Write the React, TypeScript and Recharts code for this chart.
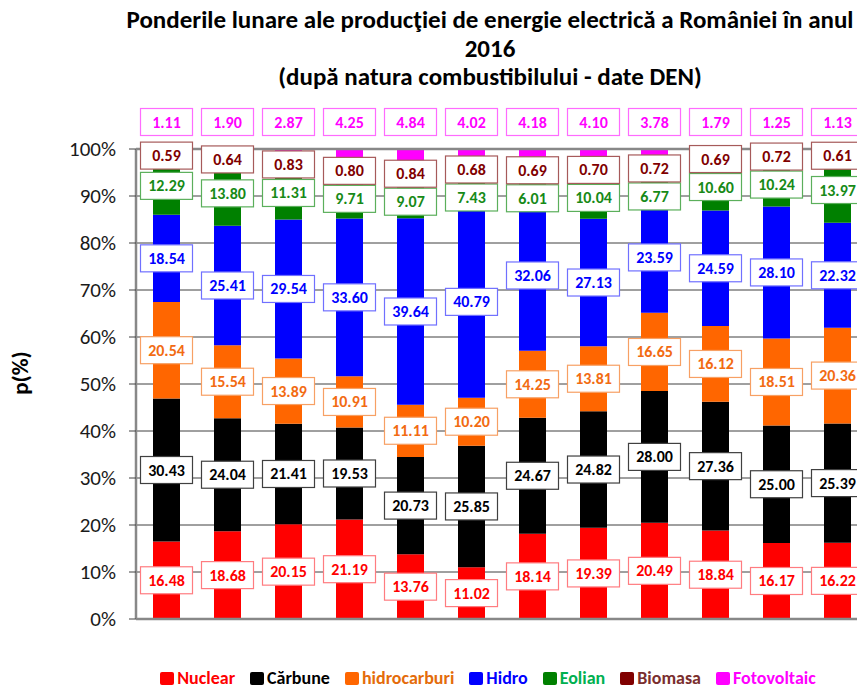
import { BarChart, Bar, XAxis, YAxis, CartesianGrid, ReferenceLine, LabelList } from 'recharts';

// monthly shares (%) of Romania's electricity production, 2016
const months = ['Ian', 'Feb', 'Mar', 'Apr', 'Mai', 'Iun', 'Iul', 'Aug', 'Sep', 'Oct', 'Noi', 'Dec'];
const nuclear = [16.48, 18.68, 20.15, 21.19, 13.76, 11.02, 18.14, 19.39, 20.49, 18.84, 16.17, 16.22];
const carbune = [30.43, 24.04, 21.41, 19.53, 20.73, 25.85, 24.67, 24.82, 28.0, 27.36, 25.0, 25.39];
const hidrocarburi = [20.54, 15.54, 13.89, 10.91, 11.11, 10.2, 14.25, 13.81, 16.65, 16.12, 18.51, 20.36];
const hidro = [18.54, 25.41, 29.54, 33.6, 39.64, 40.79, 32.06, 27.13, 23.59, 24.59, 28.1, 22.32];
const eolian = [12.29, 13.8, 11.31, 9.71, 9.07, 7.43, 6.01, 10.04, 6.77, 10.6, 10.24, 13.97];
const biomasa = [0.59, 0.64, 0.83, 0.8, 0.84, 0.68, 0.69, 0.7, 0.72, 0.69, 0.72, 0.61];
const fotovoltaic = [1.11, 1.9, 2.87, 4.25, 4.84, 4.02, 4.18, 4.1, 3.78, 1.79, 1.25, 1.13];
const yTicks = [0, 0.1, 0.2, 0.3, 0.4, 0.5, 0.6, 0.7, 0.8, 0.9, 1];

const series = [
  { key: 'nuclear', name: 'Nuclear', values: nuclear, fill: '#FF0000', text: '#FF0000', border: '#FF7C80', legend: '#FF0000' },
  { key: 'carbune', name: 'Cărbune', values: carbune, fill: '#000000', text: '#000000', border: '#404040', legend: '#000000' },
  { key: 'hidrocarburi', name: 'hidrocarburi', values: hidrocarburi, fill: '#FF6600', text: '#F26B12', border: '#F7A064', legend: '#E46C0A' },
  { key: 'hidro', name: 'Hidro', values: hidro, fill: '#0000FF', text: '#0000FF', border: '#7070FF', legend: '#0000FF' },
  { key: 'eolian', name: 'Eolian', values: eolian, fill: '#008000', text: '#178A17', border: '#5BAF5B', legend: '#00B050' },
  { key: 'biomasa', name: 'Biomasa', values: biomasa, fill: '#800000', text: '#800000', border: '#A65A5A', legend: '#7A2E2E' },
  { key: 'fotovoltaic', name: 'Fotovoltaic', values: fotovoltaic, fill: '#FF00FF', text: '#FF00FF', border: '#FF6BFF', legend: '#FF00FF' },
];

const data = months.map((m, i) => {
  const row: any = { month: m };
  series.forEach((s) => (row[s.key] = s.values[i]));
  return row;
});

const FONT = 'Carlito, Lato, sans-serif';
const BOX_W = 52;
const BOX_H = 27;
const TOP_LABEL_OFFSET = 27; // fotovoltaic labels sit above the bars

// label centres (as fraction of stack), pushed apart from the top so boxes don't overlap
function labelFracs(i: number, pxPerFrac: number) {
  const vals = series.map((s) => s.values[i]);
  const sum = vals.reduce((a, b) => a + b, 0);
  const fr: number[] = [];
  let acc = 0;
  vals.forEach((v) => {
    fr.push((acc + v / 2) / sum);
    acc += v;
  });
  fr[fr.length - 1] = 1 + TOP_LABEL_OFFSET / pxPerFrac;
  const gap = (BOX_H + 1) / pxPerFrac;
  for (let k = fr.length - 2; k >= 0; k--) {
    if (fr[k] > fr[k + 1] - gap) fr[k] = fr[k + 1] - gap;
  }
  return fr;
}

const renderLabel = (p: any, si: number) => {
  const r = p.viewBox && typeof p.viewBox.height === 'number' ? p.viewBox : p;
  const idx = p.index;
  const top = Math.min(r.y, r.y + r.height);
  const h = Math.abs(r.height);
  const vals = series.map((s) => s.values[idx]);
  const sum = vals.reduce((a, b) => a + b, 0);
  const frac = vals[si] / sum;
  const lower = vals.slice(0, si).reduce((a, b) => a + b, 0) / sum;
  const pxPerFrac = h / frac;
  const zeroY = top + h + lower * pxPerFrac;
  const fr = labelFracs(idx, pxPerFrac);
  const cy = zeroY - fr[si] * pxPerFrac;
  const cx = r.x + r.width / 2;
  const s = series[si];
  return (
    <g key={`${s.key}-${idx}`}>
      <rect x={cx - BOX_W / 2} y={cy - BOX_H / 2} width={BOX_W} height={BOX_H} fill="#fff" stroke={s.border} strokeWidth={1.2} />
      <text x={cx} y={cy + 5.5} textAnchor="middle" fontFamily={FONT} fontWeight="bold" fontSize={16} fill={s.text}>
        {s.values[idx].toFixed(2)}
      </text>
    </g>
  );
};

export default function App() {
  return (
    <div style={{ position: 'absolute', left: 0, top: 0, width: 857, height: 689, overflow: 'hidden', background: '#fff', fontFamily: FONT }}>
      <div
        style={{
          position: 'absolute',
          left: 80,
          top: 6,
          width: 820,
          textAlign: 'center',
          fontWeight: 'bold',
          fontSize: 25,
          lineHeight: '28.5px',
          color: '#000',
          whiteSpace: 'nowrap',
        }}
      >
        <div>Ponderile lunare ale producţiei de energie electrică a României în anul</div>
        <div>2016</div>
        <div>(după natura combustibilului - date DEN)</div>
      </div>

      <div
        style={{
          position: 'absolute',
          left: 20,
          top: 373,
          transform: 'translate(-50%, -50%) rotate(-90deg)',
          fontWeight: 'bold',
          fontSize: 23,
          color: '#000',
          whiteSpace: 'nowrap',
        }}
      >
        p(%)
      </div>

      <div style={{ position: 'absolute', left: 0, top: 0 }}>
        <BarChart
          width={880}
          height={689}
          data={data}
          stackOffset="expand"
          margin={{ top: 149, right: 12, left: 0, bottom: 40 }}
          barSize={27}
        >
          <CartesianGrid vertical={false} stroke="#404040" strokeWidth={1} />
          <XAxis dataKey="month" tick={false} tickLine={false} axisLine={{ stroke: '#888', strokeWidth: 2.5 }} height={30} />
          <YAxis
            width={136}
            domain={[0, 1]}
            ticks={yTicks}
            tickFormatter={(v: number) => `${Math.round(v * 100)}%`}
            tick={{ fontSize: 21, fill: '#1a1a1a', fontFamily: FONT }}
            tickSize={7}
            tickMargin={13}
            tickLine={{ stroke: '#404040' }}
            axisLine={{ stroke: '#888', strokeWidth: 2.5 }}
          />
          <ReferenceLine y={1} stroke="#888" strokeWidth={2.5} />
          {series.map((s, si) => (
            <Bar key={s.key} dataKey={s.key} stackId="a" fill={s.fill} isAnimationActive={false}>
              <LabelList dataKey={s.key} content={(p: any) => renderLabel(p, si)} />
            </Bar>
          ))}
        </BarChart>
      </div>

      <div
        style={{
          position: 'absolute',
          left: 0,
          top: 667,
          width: 976,
          height: 22,
          display: 'flex',
          justifyContent: 'center',
          gap: 15,
          fontWeight: 'bold',
          fontSize: 18,
          lineHeight: '22px',
        }}
      >
        {series.map((s) => (
          <div key={s.key} style={{ display: 'flex', alignItems: 'center', gap: 3 }}>
            <span style={{ width: 14, height: 13, background: s.fill, borderRadius: 2, display: 'inline-block' }} />
            <span style={{ color: s.legend }}>{s.name}</span>
          </div>
        ))}
      </div>
    </div>
  );
}
